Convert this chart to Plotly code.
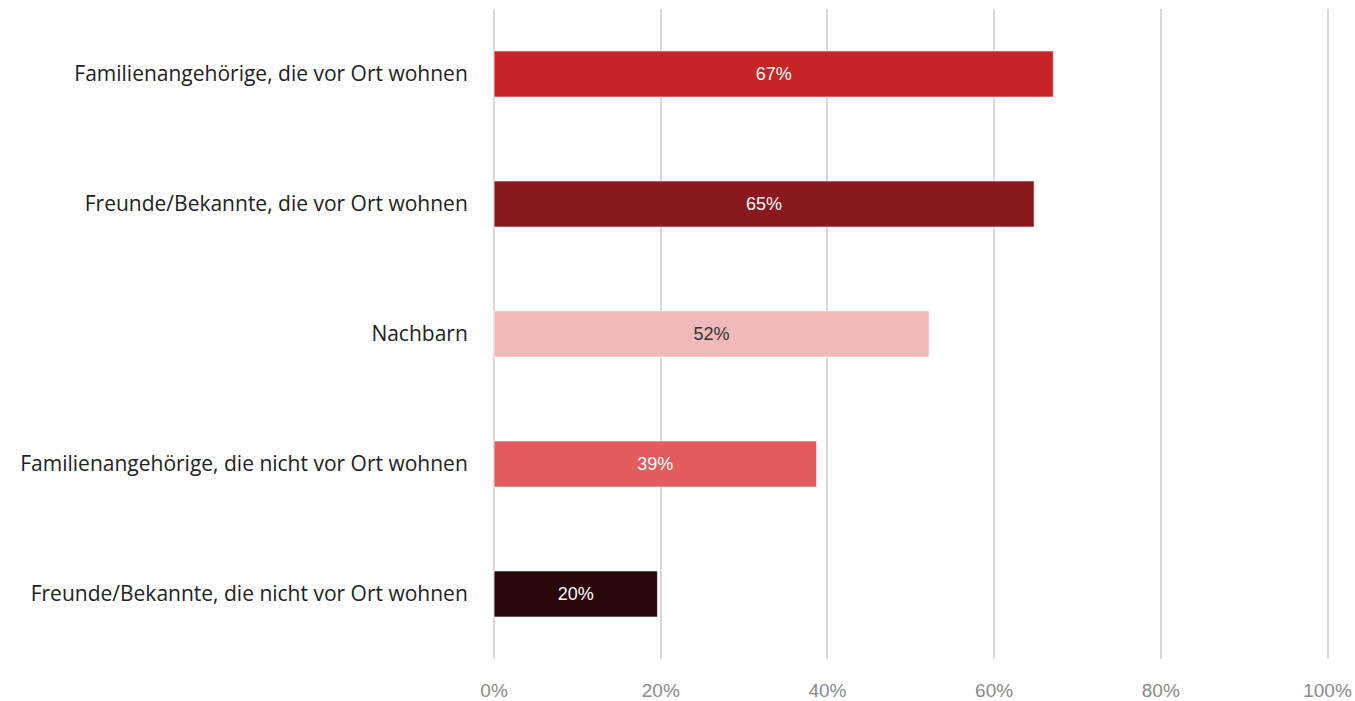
import plotly.graph_objects as go

categories = [
    "Familienangehörige, die vor Ort wohnen",
    "Freunde/Bekannte, die vor Ort wohnen",
    "Nachbarn",
    "Familienangehörige, die nicht vor Ort wohnen",
    "Freunde/Bekannte, die nicht vor Ort wohnen",
]
values = [67.1, 64.8, 52.2, 38.7, 19.6]
colors = ["#C62426", "#8B181C", "#F0B8B9", "#E25C5E", "#2A070A"]
text_colors = ["#FFFFFF", "#FFFFFF", "#333333", "#FFFFFF", "#FFFFFF"]
tick_vals = [0, 20, 40, 60, 80, 100]
tick_text = ["0%", "20%", "40%", "60%", "80%", "100%"]

fig = go.Figure(
    go.Bar(
        x=values,
        y=categories,
        orientation="h",
        marker=dict(color=colors, line=dict(color="rgba(255,255,255,0.6)", width=1)),
        width=0.354,
        text=[f"{round(v)}%" for v in values],
        textposition="inside",
        insidetextanchor="middle",
        textfont=dict(color=text_colors, size=18, family="Liberation Sans, Arial, sans-serif"),
        hoverinfo="skip",
    )
)

fig.update_layout(
    width=1355,
    height=701,
    margin=dict(l=492, r=25, t=9, b=42),
    plot_bgcolor="white",
    paper_bgcolor="white",
    showlegend=False,
    xaxis=dict(
        range=[-0.25, 100.3],
        tickvals=tick_vals,
        ticktext=tick_text,
        showgrid=True,
        gridcolor="#D9D9D9",
        gridwidth=1.5,
        zeroline=False,
        showline=False,
        ticks="outside",
        ticklen=14,
        tickcolor="rgba(0,0,0,0)",
        tickfont=dict(size=19, color="#8A8A8A", family="Liberation Sans, Arial, sans-serif"),
        automargin=False,
        fixedrange=True,
    ),
    yaxis=dict(
        autorange="reversed",
        showgrid=False,
        zeroline=False,
        showline=False,
        ticks="outside",
        ticklen=19,
        tickcolor="rgba(0,0,0,0)",
        tickfont=dict(size=21, color="#222222", family="Open Sans, sans-serif"),
        automargin=False,
        fixedrange=True,
    ),
)

fig.write_html(
    "out.html",
    config={"displayModeBar": False},
    post_script="document.body.style.margin='0';document.body.style.overflow='hidden';",
)
